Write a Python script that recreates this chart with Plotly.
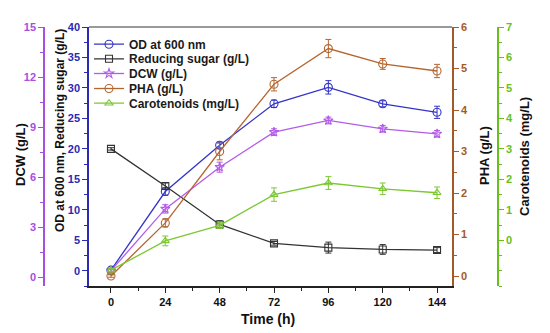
import plotly.graph_objects as go

# ---- data ----
time_h = [0, 24, 48, 72, 96, 120, 144]
od600 = [0.1, 13.0, 20.6, 27.4, 30.1, 27.4, 26.0]
od600_err = [0.3, 0.6, 0.5, 0.6, 1.1, 0.5, 1.0]
sugar = [20.0, 13.9, 7.6, 4.5, 3.8, 3.5, 3.4]
sugar_err = [0.2, 0.5, 0.6, 0.3, 0.9, 0.8, 0.4]
dcw = [0.4, 4.1, 6.6, 8.7, 9.4, 8.9, 8.6]
dcw_err = [0.1, 0.25, 0.3, 0.2, 0.2, 0.2, 0.2]
pha = [0.0, 1.28, 3.0, 4.62, 5.48, 5.11, 4.94]
pha_err = [0.03, 0.1, 0.2, 0.16, 0.22, 0.13, 0.16]
carot = [-0.98, -0.02, 0.49, 1.5, 1.88, 1.69, 1.56]
carot_err = [0.05, 0.16, 0.1, 0.22, 0.21, 0.19, 0.19]

x_ticks = [0, 24, 48, 72, 96, 120, 144]
od_ticks = [0, 5, 10, 15, 20, 25, 30, 35, 40]
dcw_ticks = [0, 3, 6, 9, 12, 15]
pha_ticks = [0, 1, 2, 3, 4, 5, 6]
carot_ticks = [0, 1, 2, 3, 4, 5, 6, 7]

# ---- style ----
FONT = "Liberation Sans, Arial, sans-serif"
C_OD = "#3434c8"
C_SUGAR = "#333333"
C_DCW = "#b25ce8"
C_PHA = "#b4652f"
C_CAR = "#7cc832"
AX_OD = "#2a2ab4"
AX_DCW = "#a84ee0"
AX_PHA = "#a45a28"
AX_CAR = "#66c01c"

W, H = 550, 333
L, R, T, B = 89, 452, 27, 286  # plot area in px
xdom = [L / W, R / W]


def px(xp):
    return xp / W


def py(yp):
    return (B - yp) / (B - T)


legend_rows = [42.7, 57.3, 72.0, 87.0, 101.7]


def series(name, y, err, color, symbol, yaxis, legend, msize=8):
    return go.Scatter(
        x=time_h, y=y, name=name, yaxis=yaxis, mode="lines+markers",
        legend=legend,
        line=dict(color=color, width=1.3),
        marker=dict(symbol=symbol, size=msize, color=color,
                    line=dict(color=color, width=1.1)),
        error_y=dict(type="data", array=err, visible=True,
                     color=color, thickness=1, width=3),
    )


fig = go.Figure()
fig.add_trace(series("OD at 600 nm", od600, od600_err, C_OD, "circle-open", "y", "legend"))
fig.add_trace(series("Reducing sugar (g/L)", sugar, sugar_err, C_SUGAR, "square-open", "y", "legend2", 7))
fig.add_trace(series("DCW (g/L)", dcw, dcw_err, C_DCW, "star-open", "y2", "legend3", 7))
fig.add_trace(series("PHA (g/L)", pha, pha_err, C_PHA, "circle-open", "y3", "legend4"))
fig.add_trace(series("Carotenoids (mg/L)", carot, carot_err, C_CAR, "triangle-up-open", "y4", "legend5", 7))


def yax(color, ticks, rng, minor_dt, **kw):
    d = dict(
        range=rng, tickmode="array", tickvals=ticks,
        ticktext=[str(t) for t in ticks],
        showline=True, linecolor=color, linewidth=1.5,
        ticks="outside", ticklen=5, tickwidth=1.2, tickcolor=color,
        tickfont=dict(family=FONT, size=11, color=color, weight="bold"),
        minor=dict(ticks="outside", ticklen=3, tickwidth=1, tickcolor=color,
                   tickmode="linear", tick0=0, dtick=minor_dt, showgrid=False),
        showgrid=False, zeroline=False, fixedrange=True,
    )
    d.update(kw)
    return d


def leg(row):
    return dict(x=px(89), xanchor="left", y=py(legend_rows[row] - 13), yanchor="top",
                bgcolor="rgba(0,0,0,0)", borderwidth=0,
                font=dict(family=FONT, size=12, color="#1a1a1a", weight="bold"),
                itemwidth=30)


fig.update_layout(
    width=W, height=H,
    margin=dict(l=0, r=0, t=T, b=H - B, autoexpand=False),
    paper_bgcolor="white", plot_bgcolor="white",
    font=dict(family=FONT, color="#111"),
    showlegend=True,
    legend=leg(0), legend2=leg(1), legend3=leg(2), legend4=leg(3), legend5=leg(4),
    xaxis=dict(
        domain=xdom, range=[-9.7, 150.6],
        tickmode="array", tickvals=x_ticks, ticktext=[str(t) for t in x_ticks],
        showline=True, linecolor="#222", linewidth=1.5,
        ticks="outside", ticklen=5, tickwidth=1.2, tickcolor="#222",
        tickfont=dict(family=FONT, size=11, color="#111", weight="bold"),
        minor=dict(ticks="outside", ticklen=3, tickwidth=1, tickcolor="#222",
                   tickmode="linear", tick0=0, dtick=12, showgrid=False),
        showgrid=False, zeroline=False,
    ),
    yaxis=yax(AX_OD, od_ticks, [-2.5, 40], 2.5, anchor="x", side="left"),
    yaxis2=yax(AX_DCW, dcw_ticks, [-0.52, 15], 1.5, overlaying="y",
               anchor="free", position=px(44), side="left"),
    yaxis3=yax(AX_PHA, pha_ticks, [-0.24, 6], 0.5, overlaying="y",
               anchor="x", side="right"),
    yaxis4=yax(AX_CAR, carot_ticks, [-1.5, 7], 0.5, overlaying="y",
               anchor="free", position=px(498), side="right"),
)

# top frame line
fig.add_shape(type="line", xref="paper", yref="paper", x0=xdom[0], x1=xdom[1],
              y0=1, y1=1, line=dict(color="#777", width=1.5))

# axis titles
title_font = dict(family=FONT, size=13, color="#111", weight="bold")
common = dict(xref="paper", yref="paper", showarrow=False, xanchor="center", yanchor="middle")
fig.add_annotation(text="DCW (g/L)", x=px(20), y=py(155), textangle=-90,
                   font=title_font, **common)
fig.add_annotation(text="OD at 600 nm, Reducing sugar (g/L)", x=px(60), y=py(131),
                   textangle=-90, font=dict(title_font, size=12), **common)
fig.add_annotation(text="PHA (g/L)", x=px(484), y=py(156), textangle=-90,
                   font=title_font, **common)
fig.add_annotation(text="Carotenoids (mg/L)", x=px(524), y=py(157), textangle=-90,
                   font=title_font, **common)
fig.add_annotation(text="Time (h)", x=px(268), y=py(319),
                   font=dict(title_font, size=14), **common)

fig.write_html(
    "out.html",
    config={"displayModeBar": False},
    post_script="document.body.style.margin='0px';document.body.style.overflow='hidden';",
)
